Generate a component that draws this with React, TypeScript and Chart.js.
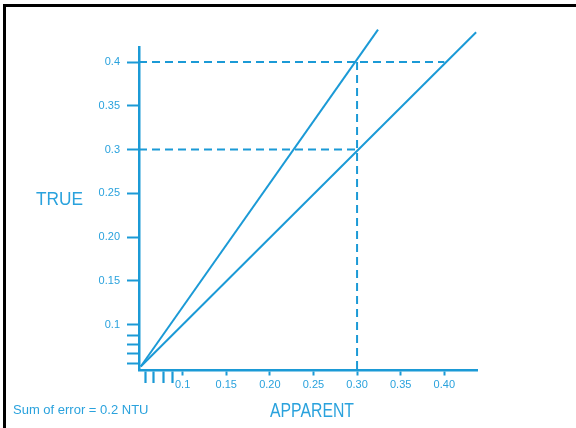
import React, { useEffect, useRef } from 'react';
import { Chart, registerables } from 'chart.js';

Chart.register(...registerables);

const BLUE = '#1b9ad6';
const TEXT_BLUE = '#2aa2dd';
const FONT = "'Liberation Sans Narrow', 'Liberation Sans', Arial, sans-serif";

// steeper calibration line (apparent vs true)
const steepApparent = [0.052, 0.324];
const steepTrue = [0.052, 0.437];
// 1:1 line
const identityApparent = [0.052, 0.4365];
const identityTrue = [0.052, 0.434];
// dashed reading guides
const guide04Apparent = [0.05, 0.4];
const guide04True = [0.4, 0.4];
const guide03Apparent = [0.05, 0.3];
const guide03True = [0.3, 0.3];
const guideVertApparent = [0.3, 0.3];
const guideVertTrue = [0.4, 0.048];

// axis ticks (first four are the axis-break hatch marks)
const xTickValues = [0.0573, 0.0669, 0.0777, 0.088, 0.1, 0.15, 0.2, 0.25, 0.3, 0.35, 0.4];
const xTickLabels = ['', '', '', '', '0.1', '0.15', '0.20', '0.25', '0.30', '0.35', '0.40'];
const yTickValues = [0.055, 0.0674, 0.0766, 0.0872, 0.1, 0.15, 0.2, 0.25, 0.3, 0.35, 0.4];
const yTickLabels = ['', '', '', '', '0.1', '0.15', '0.20', '0.25', '0.3', '0.35', '0.4'];

const xTitle = 'APPARENT';
const yTitle = 'TRUE';
const note = 'Sum of error = 0.2 NTU';

const toPoints = (xs: number[], ys: number[]) => xs.map((x, i) => ({ x, y: ys[i] }));

export default function App() {
  const ref = useRef<HTMLCanvasElement>(null);

  useEffect(() => {
    const solid = (xs: number[], ys: number[]) => ({
      data: toPoints(xs, ys),
      showLine: true,
      borderColor: BLUE,
      borderWidth: 2,
      pointRadius: 0,
      clip: false as any,
    });
    const dashed = (xs: number[], ys: number[]) => ({
      ...solid(xs, ys),
      borderDash: [8, 5],
      borderWidth: 2,
    });

    const chart = new Chart(ref.current!, {
      type: 'scatter',
      data: {
        datasets: [
          solid(steepApparent, steepTrue),
          solid(identityApparent, identityTrue),
          dashed(guide04Apparent, guide04True),
          dashed(guide03Apparent, guide03True),
          dashed(guideVertApparent, guideVertTrue),
        ] as any,
      },
      options: {
        responsive: false,
        maintainAspectRatio: false,
        animation: false,
        layout: { padding: { top: 47, right: 99, left: 0, bottom: 0 } },
        plugins: { legend: { display: false }, tooltip: { enabled: false } },
        scales: {
          x: {
            type: 'linear',
            min: 0.05,
            max: 0.4375,
            afterBuildTicks: (s: any) => {
              s.ticks = xTickValues.map((v) => ({ value: v }));
            },
            afterFit: (s: any) => {
              s.height = 58;
            },
            grid: {
              drawOnChartArea: false,
              drawTicks: true,
              tickLength: 13,
              tickColor: BLUE,
              tickWidth: (ctx: any) => (ctx.index < 4 ? 2.2 : 2),
              tickBorderDash: (ctx: any) => (ctx.index < 4 ? [] : [4, 40]),
            },
            border: { display: true, color: BLUE, width: 2.5 },
            ticks: {
              autoSkip: false,
              maxRotation: 0,
              minRotation: 0,
              padding: -5,
              color: TEXT_BLUE,
              font: { family: FONT, size: 11 },
              callback: (_v: any, i: number) => xTickLabels[i],
            },
            title: { display: false },
          },
          y: {
            type: 'linear',
            min: 0.048,
            max: 0.4172,
            afterBuildTicks: (s: any) => {
              s.ticks = yTickValues.map((v) => ({ value: v }));
            },
            afterFit: (s: any) => {
              s.width = 139;
            },
            grid: {
              drawOnChartArea: false,
              drawTicks: true,
              tickLength: 12,
              tickColor: BLUE,
              tickWidth: 2,
            },
            border: { display: true, color: BLUE, width: 2.5 },
            ticks: {
              autoSkip: false,
              padding: 7,
              color: TEXT_BLUE,
              font: { family: FONT, size: 11 },
              callback: (_v: any, i: number) => yTickLabels[i],
            },
          },
        },
      } as any,
    });
    return () => chart.destroy();
  }, []);

  const textBase: React.CSSProperties = {
    position: 'absolute',
    fontFamily: FONT,
    color: TEXT_BLUE,
    whiteSpace: 'nowrap',
    transformOrigin: 'left top',
  };

  return (
    <div
      style={{
        position: 'absolute',
        left: 0,
        top: 0,
        width: 576,
        height: 428,
        background: '#fff',
        overflow: 'hidden',
      }}
    >
      <canvas
        ref={ref}
        width={576}
        height={428}
        style={{ position: 'absolute', left: 0, top: 0, width: 576, height: 428 }}
      />
      <div
        style={{
          position: 'absolute',
          left: 3,
          top: 4,
          right: 0,
          bottom: 0,
          borderTop: '3px solid #000',
          borderLeft: '3px solid #000',
          pointerEvents: 'none',
        }}
      />
      <span
        style={{
          ...textBase,
          left: 36,
          top: 190,
          fontSize: 18,
          lineHeight: '18px',
          transform: 'scaleX(0.96)',
        }}
      >
        {yTitle}
      </span>
      <span
        style={{
          ...textBase,
          left: 270,
          top: 400,
          fontSize: 20,
          lineHeight: '20px',
          transform: 'scaleX(0.79)',
        }}
      >
        {xTitle}
      </span>
      <span
        style={{
          ...textBase,
          left: 13,
          top: 403,
          fontSize: 13,
          lineHeight: '13px',
        }}
      >
        {note}
      </span>
    </div>
  );
}
